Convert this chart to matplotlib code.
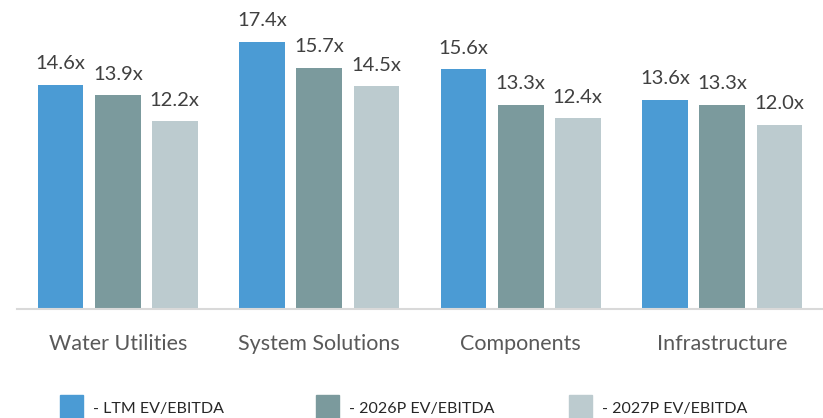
import numpy as np
import matplotlib
matplotlib.use('Agg')
import matplotlib.pyplot as plt
from matplotlib.patches import Rectangle

# ── Data ──────────────────────────────────────────────────────────────
categories = ['Water Utilities', 'System Solutions', 'Components', 'Infrastructure']
series_names = ['- LTM EV/EBITDA', '- 2026P EV/EBITDA', '- 2027P EV/EBITDA']
ltm   = [14.6, 17.4, 15.6, 13.6]
p2026 = [13.9, 15.7, 13.3, 13.3]
p2027 = [12.2, 14.5, 12.4, 12.0]
colors = ['#4b9bd4', '#7b9a9d', '#bccbcf']

plt.rcParams['font.family'] = ['Lato', 'DejaVu Sans']

# ── Figure ────────────────────────────────────────────────────────────
W, H = 823, 418
fig = plt.figure(figsize=(W / 100, H / 100), dpi=100)
ax = fig.add_axes([17 / W, (H - 309) / H, 806 / W, 309 / H])

x = np.arange(len(categories))
width = 0.226
pitch = 0.283
for i, (vals, col) in enumerate(zip([ltm, p2026, p2027], colors)):
    pos = x + (i - 1) * pitch
    ax.bar(pos, vals, width=width, color=col, zorder=2)
    for px, v in zip(pos, vals):
        ax.annotate(f'{v:.1f}x', (px, v), xytext=(0, 9), textcoords='offset points',
                    ha='center', va='bottom', fontsize=14.5, color='#404040')

ax.set_xlim(-0.5, 3.5)
ax.set_ylim(0, 20.1)
ax.set_yticks([])
ax.set_xticks(x)
ax.set_xticklabels(categories, fontsize=15.5, color='#595959')
ax.tick_params(axis='x', length=0, pad=18)
for s in ['top', 'right', 'left']:
    ax.spines[s].set_visible(False)
ax.spines['bottom'].set_color('#d9d9d9')
ax.spines['bottom'].set_linewidth(1.5)

# ── Legend (bottom, cut by the image edge) ────────────────────────────
leg_x = [60, 316, 569]
for name, col, lx in zip(series_names, colors, leg_x):
    fig.patches.append(Rectangle((lx / W, 0), 23 / W, 23 / H, transform=fig.transFigure,
                                 color=col, figure=fig))
    fig.text((lx + 33) / W, (H - 409) / H, name, fontsize=11.5, color='#262626',
             va='center', ha='left')

fig.savefig('out.png', dpi=100)
